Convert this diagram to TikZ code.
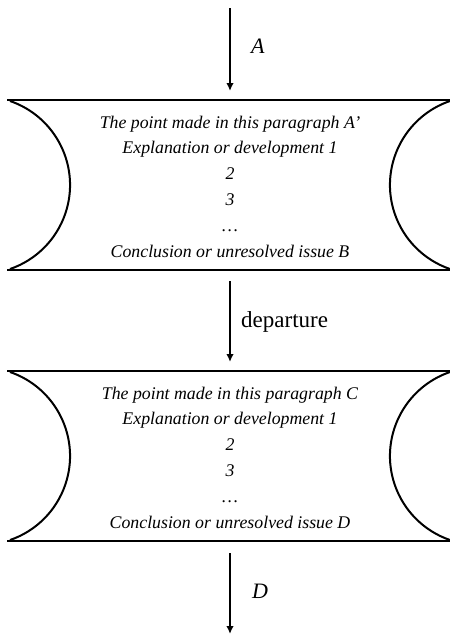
\documentclass[tikz,border=0pt]{standalone}
\usepackage{fontspec}
\setmainfont{Liberation Serif}
\usetikzlibrary{arrows.meta}
\tikzset{
  conn/.style={-{Latex[length=8pt,width=7.5pt]}, line width=1.9pt},
  rail/.style={line width=2.2pt},
  endarc/.style={line width=2pt},
  body/.style={align=center, font=\itshape\fontsize{17.8}{25.8}\selectfont, inner sep=0pt},
  lbl/.style={anchor=base west, inner sep=0pt},
  scroll/.pic={
    \draw[rail] (7,0) -- (450,0);
    \draw[rail] (7,170) -- (450,170);
    \draw[endarc] (10,1) arc[start angle=-71.1, end angle=71.1, radius=88.8];
    \draw[endarc] (450,1) arc[start angle=-108.9, end angle=-251.1, radius=88.8];
  }
}
\begin{document}
\begin{tikzpicture}[x=1pt,y=-1pt]
\useasboundingbox (0,0) rectangle (450,635);
\pic at (0,100) {scroll};
\pic at (0,371) {scroll};
\coordinate (s1) at (230,8);
\coordinate (t1) at (230,91);
\coordinate (b1) at (230,281);
\coordinate (t2) at (230,362);
\coordinate (b2) at (230,553);
\coordinate (e3) at (230,634);
\node[body] (p1) at (230,186.5) {The point made in this paragraph A’\\Explanation or development 1\\2\\3\\…\\Conclusion or unresolved issue B};
\node[body] (p2) at (230,457.5) {The point made in this paragraph C\\Explanation or development 1\\2\\3\\…\\Conclusion or unresolved issue D};
\draw[conn] (s1) -- (t1);
\draw[conn] (b1) -- (t2);
\draw[conn] (b2) -- (e3);
\node[lbl, font=\itshape\fontsize{22}{24}\selectfont] (la) at (251,53) {A};
\node[lbl, font=\fontsize{23}{25}\selectfont] (ld) at (241,327) {departure};
\node[lbl, font=\itshape\fontsize{22}{24}\selectfont] (lD) at (252,598) {D};
\end{tikzpicture}
\end{document}
